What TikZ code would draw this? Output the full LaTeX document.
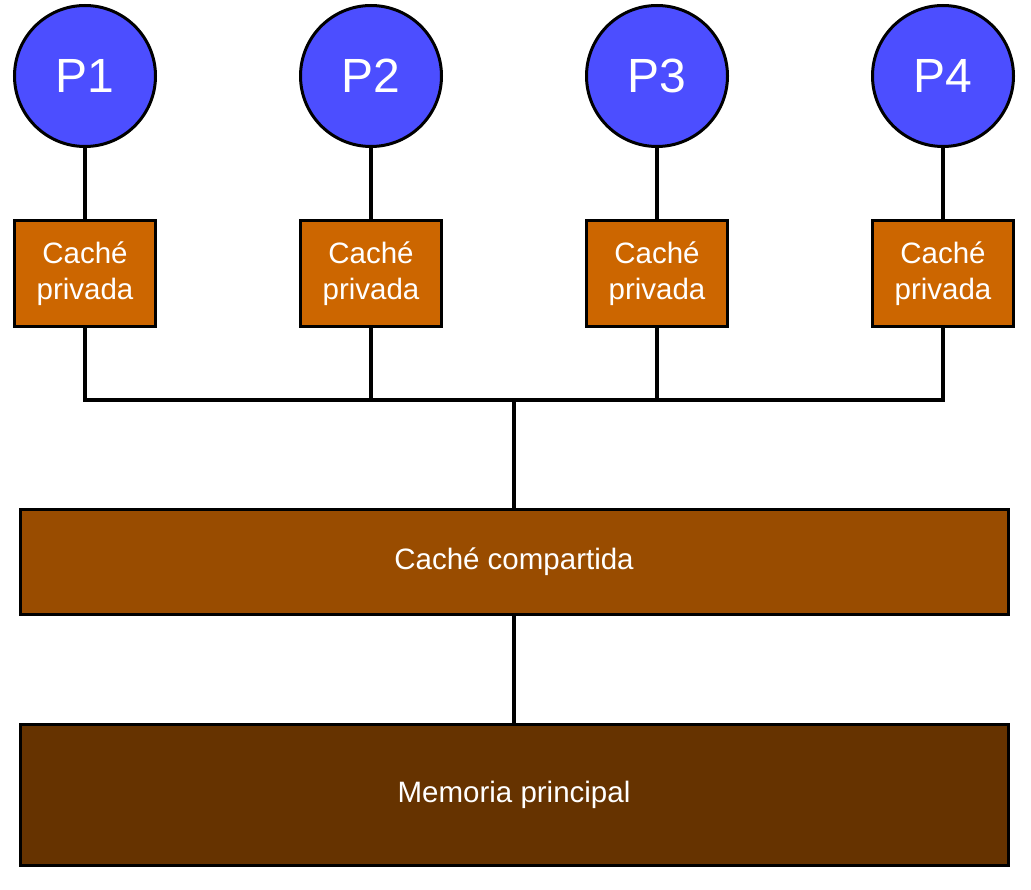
\documentclass[tikz,border=0pt]{standalone}
\usepackage{fontspec}
\setmainfont{Liberation Sans}
\definecolor{procblue}{RGB}{76,78,255}
\definecolor{privc}{RGB}{204,102,0}
\definecolor{sharedc}{RGB}{153,76,0}
\definecolor{memc}{RGB}{102,51,0}
\begin{document}
\begin{tikzpicture}[x=1pt,y=-1pt,
  every node/.style={line width=3pt,draw=black,text=white,inner sep=0pt},
  proc/.style={circle,fill=procblue,minimum size=141pt,font=\fontsize{48}{52}\selectfont},
  privbox/.style={rectangle,fill=privc,minimum width=141pt,minimum height=106pt,align=center,font=\fontsize{29.5}{36}\selectfont},
  bigbox/.style={rectangle,minimum width=988pt,font=\fontsize{29.5}{34}\selectfont},
  wire/.style={line width=3.2pt,line join=miter}]
\useasboundingbox (0,0) rectangle (1031,890);
\foreach \i/\x in {1/85,2/371,3/657,4/943}{
  \node[proc] (p\i) at (\x,76) {P\i};
  \node[privbox] (c\i) at (\x,274) {Caché\\privada};
  \draw[wire] (p\i) -- (c\i);
}
\node[bigbox,fill=sharedc,minimum height=105pt] (sh) at (514,562) {Caché compartida};
\node[bigbox,fill=memc,minimum height=141pt] (mem) at (514,795) {Memoria principal};
\coordinate (bl) at (85,400);
\coordinate (br) at (943,400);
\coordinate (bm) at (514,400);
\draw[wire] (c1.south) -- (bl) -- (br) -- (c4.south);
\draw[wire] (c2.south) -- (c2.south |- bl);
\draw[wire] (c3.south) -- (c3.south |- bl);
\draw[wire] (bm) -- (sh.north);
\draw[wire] (sh) -- (mem);
\end{tikzpicture}
\end{document}
